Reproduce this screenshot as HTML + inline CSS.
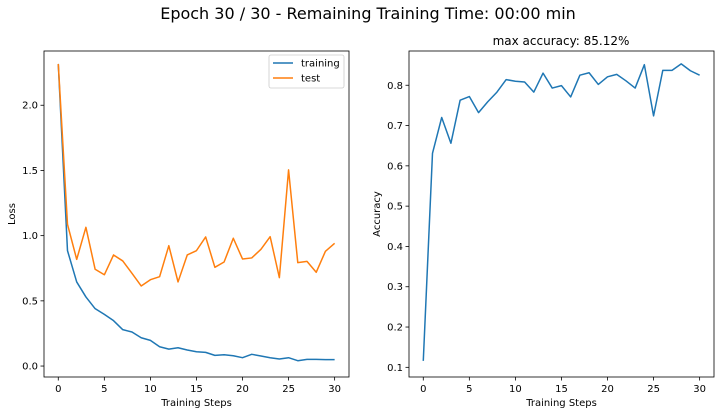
<!DOCTYPE html>
<html><head><meta charset="utf-8">
<style>
html,body{margin:0;padding:0;background:#fff;}
svg{display:block;font-family:"DejaVu Sans","Liberation Sans",sans-serif;}
</style></head>
<body>
<svg id="chart" width="720" height="414" viewBox="0 0 720 414">
<text x="368" y="19" font-size="16" text-anchor="middle" fill="#000">Epoch 30 / 30 - Remaining Training Time: 00:00 min</text>
</svg>
<script>
const steps = [0,1,2,3,4,5,6,7,8,9,10,11,12,13,14,15,16,17,18,19,20,21,22,23,24,25,26,27,28,29,30];
const trainLoss = [2.317,0.885,0.645,0.53,0.44,0.396,0.348,0.279,0.261,0.217,0.197,0.148,0.13,0.14,0.123,0.11,0.105,0.082,0.087,0.079,0.064,0.09,0.077,0.064,0.054,0.064,0.041,0.051,0.051,0.049,0.049];
const testLoss = [2.317,1.087,0.818,1.064,0.742,0.70,0.852,0.806,0.711,0.614,0.662,0.685,0.923,0.645,0.852,0.885,0.99,0.757,0.798,0.98,0.821,0.829,0.895,0.992,0.678,1.504,0.793,0.803,0.719,0.88,0.941];
const accuracy = [0.116,0.631,0.72,0.656,0.763,0.772,0.732,0.759,0.783,0.814,0.81,0.808,0.783,0.83,0.793,0.799,0.771,0.825,0.831,0.802,0.821,0.827,0.811,0.793,0.851,0.724,0.837,0.837,0.853,0.836,0.825];
const xTicks = [0,5,10,15,20,25,30];
const lossTicks = [0,0.5,1.0,1.5,2.0];
const lossTickLabels = ["0.0","0.5","1.0","1.5","2.0"];
const accTicks = [0.1,0.2,0.3,0.4,0.5,0.6,0.7,0.8];
const accTickLabels = ["0.1","0.2","0.3","0.4","0.5","0.6","0.7","0.8"];

const NS = "http://www.w3.org/2000/svg";
const svg = document.getElementById('chart');
function mk(tag, attrs, parent){
  const e = document.createElementNS(NS, tag);
  for (const k in attrs) e.setAttribute(k, attrs[k]);
  (parent||svg).appendChild(e);
  return e;
}
function scale(d0,d1,r0,r1){ return v => r0 + (v-d0)/(d1-d0)*(r1-r0); }

function panel(cfg){
  const g = mk('g', {});
  
  
  const L=cfg.left, R=cfg.right, T=51, B=377;
  const x = scale(cfg.xd[0], cfg.xd[1], L, R);
  const y = scale(cfg.yd[0], cfg.yd[1], B, T);
  xTicks.forEach(t => {
    const px = x(t);
    const tk = mk('line', {x1:px,x2:px,y1:B,y2:B+3.5,stroke:'#000','stroke-width':0.8}, g);
    
    
    const tl = mk('text', {x:px,y:B+15,'font-size':10,'text-anchor':'middle',fill:'#000'}, g);
    tl.textContent = t;
    
    
  });
  cfg.yTicks.forEach((t,i) => {
    const py = y(t);
    const tk = mk('line', {x1:L-3.5,x2:L,y1:py,y2:py,stroke:'#000','stroke-width':0.8}, g);
    
    
    const tl = mk('text', {x:L-6,y:py+3.5,'font-size':10,'text-anchor':'end',fill:'#000'}, g);
    tl.textContent = cfg.yLabels[i];
    
    
  });
  cfg.series.forEach(s => {
    const d = s.vals.map((v,i) => (i?'L':'M') + x(steps[i]).toFixed(2) + ',' + y(v).toFixed(2)).join(' ');
    const p = mk('path', {d:d,fill:'none',stroke:s.color,'stroke-width':1.5,'stroke-linejoin':'round'}, g);
    
    
  });
  const fr = mk('rect', {x:L,y:T,width:R-L,height:B-T,fill:'none',stroke:'#000','stroke-width':0.8}, g);
  
  
  const xl = mk('text', {x:(L+R)/2,y:406,'font-size':10,'text-anchor':'middle',fill:'#000'}, g);
  xl.textContent = 'Training Steps';
  
  
  const yl = mk('text', {x:0,y:0,'font-size':10,'text-anchor':'middle',fill:'#000',transform:'translate('+cfg.yTitleX+','+((T+B)/2)+') rotate(-90)'}, g);
  yl.textContent = cfg.yTitle;
  
  
  return g;
}

panel({name:'loss-panel', left:44, right:349, xd:[-1.55,31.56], yd:[-0.084,2.416],
  yTicks:lossTicks, yLabels:lossTickLabels, yTitle:'Loss', yTitleX:15,
  series:[{name:'training-loss-line',vals:trainLoss,color:'#1f77b4'},{name:'test-loss-line',vals:testLoss,color:'#ff7f0e'}]});
panel({name:'accuracy-panel', left:409, right:714, xd:[-1.55,31.56], yd:[0.076,0.885],
  yTicks:accTicks, yLabels:accTickLabels, yTitle:'Accuracy', yTitleX:380,
  series:[{name:'accuracy-line',vals:accuracy,color:'#1f77b4'}]});

const st = mk('text', {x:561,y:45,'font-size':12,'text-anchor':'middle',fill:'#000'});
st.textContent = 'max accuracy: 85.12%';



const lg = mk('g', {});


mk('rect', {x:269,y:55,width:75,height:33,rx:2,fill:'#fff',stroke:'#ccc','stroke-width':0.8}, lg);
const items = [['training','#1f77b4',63],['test','#ff7f0e',78]];
items.forEach(it => {
  const ln = mk('line', {x1:273,x2:293,y1:it[2],y2:it[2],stroke:it[1],'stroke-width':1.5}, lg);
  
  
  const tx = mk('text', {x:301,y:it[2]+3.5,'font-size':10,fill:'#000'}, lg);
  tx.textContent = it[0];
  
  
});
</script>
</body></html>
